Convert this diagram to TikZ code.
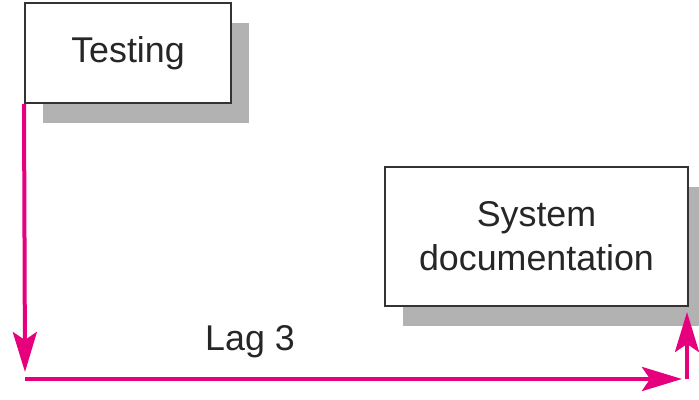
\documentclass[tikz,border=0pt]{standalone}
\usepackage{fontspec}
\setmainfont{Liberation Sans}
\usepackage{tikz}
\usetikzlibrary{arrows.meta,shadows,positioning}
\definecolor{lagpink}{RGB}{230,0,126}
\definecolor{boxline}{RGB}{51,51,51}

\begin{document}
\begin{tikzpicture}[x=0.5pt,y=-0.5pt,>={Stealth[length=20pt,width=12pt,inset=4pt]},
	every node/.style={font=\fontsize{17.9}{22}\selectfont,text=black!85},
	task/.style={draw=boxline,line width=1pt,fill=white,align=center,inner sep=0pt,
		drop shadow={shadow xshift=9pt,shadow yshift=-10pt,fill=black!30,opacity=1}},
	lag/.style={draw=lagpink,line width=2pt}]
	\useasboundingbox (0,0) rectangle (699,400);

	\node[task,minimum width=103pt,minimum height=50pt] (test) at (128,53) {Testing};
	\node[task,minimum width=151.5pt,minimum height=69.5pt] (doc) at (536.5,236.5) {System\\documentation};

	\coordinate (downend) at (25,372);
	\coordinate (lagstart) at (25,379);
	\coordinate (lagend) at (682,379);
	\coordinate (upstart) at (687,379);
	\coordinate (upend) at (687,312);
	\node (laglabel) at (250,342) {Lag 3};

	\draw[lag,->] (test.south west) -- (downend);
	\draw[lag,->] (lagstart) -- (lagend);
	\draw[lag,->] (upstart) -- (upend);
\end{tikzpicture}
\end{document}
